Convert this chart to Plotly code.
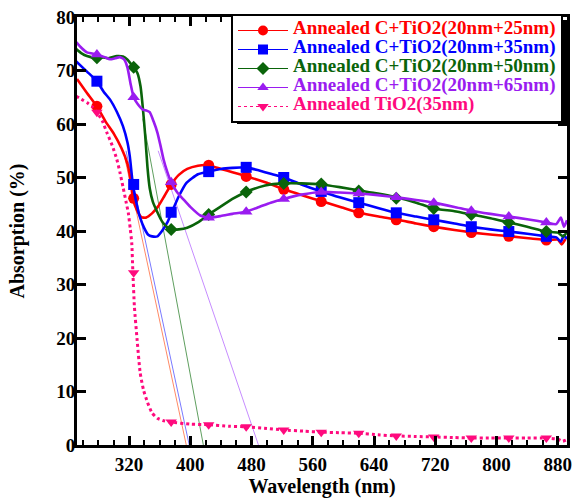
import plotly.graph_objects as go

# ---------------- data ----------------
names = ["Annealed C+TiO2(20nm+25nm)", "Annealed C+TiO2(20nm+35nm)",
         "Annealed C+TiO2(20nm+50nm)", "Annealed C+TiO2(20nm+65nm)",
         "Annealed TiO2(35nm)"]

red_x = [252, 265, 278, 290, 300, 310, 318, 322, 325, 330, 336, 342, 350, 358, 366, 375, 385, 396, 410, 423,
         440, 455, 474, 500, 522, 548, 573, 598, 621, 646, 671, 695, 718, 745, 769, 795, 819, 845, 868, 880, 885, 890]
red_y = [68.4, 65.8, 63.3, 60.3, 58.2, 55.5, 52.5, 49.5, 46.1, 44.0, 42.6, 42.5, 43.3, 44.6, 46.5, 48.7, 50.5, 51.6, 52.2, 52.3,
         51.6, 51.0, 50.2, 49.0, 47.8, 46.6, 45.5, 44.4, 43.4, 42.7, 42.1, 41.4, 40.8, 40.2, 39.7, 39.3, 39.0, 38.6, 38.3, 38.4, 37.5, 38.5]

blue_x = [251, 265, 278, 287, 295, 304, 312, 318, 321, 325, 330, 334, 340, 345, 350, 357, 363, 370, 376, 385, 395, 410, 424,
          440, 455, 473, 490, 505, 522, 545, 571, 595, 620, 645, 669, 695, 718, 745, 767, 792, 816, 840, 865, 878, 884, 888, 892]
blue_y = [71.7, 69.8, 68.0, 66.0, 64.6, 62.3, 59.6, 56.5, 53.9, 48.7, 45.0, 42.7, 40.5, 39.3, 39.0, 39.0, 40.0, 41.6, 43.6, 46.5, 49.0, 50.6, 51.1,
          51.6, 51.8, 51.9, 51.3, 50.7, 50.0, 48.7, 47.4, 46.3, 45.3, 44.3, 43.4, 42.7, 42.1, 41.4, 40.8, 40.3, 39.9, 39.5, 39.0, 38.8, 38.0, 39.2, 38.5]

green_x = [251, 258, 265, 275, 282, 293, 304, 312, 318, 322, 326, 331, 335, 338, 341, 344, 347, 351, 357, 363, 370, 376, 385, 396,
           410, 424, 440, 455, 473, 490, 505, 522, 545, 571, 595, 620, 645, 669, 695, 718, 745, 767, 792, 816, 840, 865, 880, 887, 892]
green_y = [74.0, 73.2, 72.7, 72.4, 72.5, 72.3, 72.7, 72.6, 72.0, 71.3, 70.6, 69.5, 67.0, 63.0, 58.0, 52.0, 48.0, 45.5, 43.5, 41.8, 40.7, 40.3, 40.3, 40.6,
           41.6, 43.1, 44.6, 46.0, 47.3, 48.2, 48.7, 48.9, 48.9, 48.7, 48.2, 47.6, 47.0, 46.3, 45.3, 44.2, 43.7, 43.1, 42.4, 41.6, 40.8, 39.9, 39.7, 39.0, 39.8]

purple_x = [251, 258, 265, 278, 288, 295, 302, 308, 314, 318, 322, 326, 331, 338, 343, 347, 352, 357, 361, 365, 370, 375, 383, 391,
            400, 413, 424, 440, 455, 473, 490, 505, 522, 545, 571, 595, 620, 645, 669, 695, 718, 745, 767, 792, 816, 840, 865, 878, 884, 888, 892]
purple_y = [75.3, 74.2, 73.4, 73.0, 72.5, 72.1, 72.3, 72.5, 72.0, 70.5, 67.5, 65.0, 63.8, 62.7, 62.5, 62.2, 60.5, 58.4, 56.0, 53.4, 51.0, 49.1, 47.2, 45.9,
            44.5, 42.9, 42.5, 42.8, 43.2, 43.6, 44.5, 45.3, 46.0, 46.8, 47.3, 47.2, 47.0, 46.7, 46.3, 45.8, 45.3, 44.5, 43.8, 43.2, 42.7, 42.2, 41.6, 41.3, 42.5, 40.8, 42.0]

pink_x = [251, 258, 265, 272, 278, 285, 291, 298, 304, 308, 312, 316, 319, 321.5, 323.5, 325, 327, 330.5, 334.5, 339, 344, 350, 357, 366, 374,
          400, 423, 450, 473, 500, 522, 548, 571, 596, 620, 645, 669, 695, 718, 745, 767, 792, 816, 840, 865, 880, 886, 892]
pink_y = [65.2, 64.6, 64.0, 63.2, 62.2, 60.6, 58.4, 56.0, 53.4, 51.0, 48.3, 45.5, 43.4, 40.5, 37.8, 32.2, 25.8, 19.7, 13.5, 10.2, 8.0, 6.0, 5.0, 4.5, 4.3,
          3.9, 3.8, 3.5, 3.4, 3.1, 2.8, 2.6, 2.4, 2.3, 2.2, 1.9, 1.7, 1.6, 1.5, 1.4, 1.3, 1.3, 1.3, 1.3, 1.3, 1.1, 0.7, 1.0]

# marker positions (every ~49 nm)
mark_x = [278, 326, 375, 424, 473, 522, 571, 620, 669, 718, 767, 816, 865]
red_mark = [63.3, 46.1, 48.7, 52.3, 50.2, 47.8, 45.5, 43.4, 42.1, 40.8, 39.7, 39.0, 38.3]
blue_mark = [68.0, 48.7, 43.5, 51.1, 51.9, 50.0, 47.4, 45.3, 43.4, 42.1, 40.8, 39.9, 39.0]
green_mark = [72.4, 70.6, 40.3, 43.1, 47.3, 48.9, 48.8, 47.5, 46.1, 44.2, 43.1, 41.6, 39.9]
purple_mark = [73.0, 65.0, 49.1, 42.5, 43.6, 46.0, 47.3, 47.0, 46.3, 45.3, 43.8, 42.7, 41.6]
pink_mark = [62.2, 32.2, 4.3, 3.8, 3.4, 2.8, 2.4, 2.2, 1.7, 1.5, 1.3, 1.3, 1.3]

# band-edge tangent lines: (x_start, y_start) -> (x_intercept, 0)
tan_red_x, tan_red_y = [312.5, 394.7], [55.0, 0.0]
tan_blue_x, tan_blue_y = [316.0, 398.6], [55.0, 0.0]
tan_green_x, tan_green_y = [338.0, 417.0], [61.0, 0.0]
tan_purple_x, tan_purple_y = [358.0, 489.0], [55.0, 0.0]

x_ticks = [320, 400, 480, 560, 640, 720, 800, 880]
y_ticks = [0, 10, 20, 30, 40, 50, 60, 70, 80]

# ---------------- styling ----------------
FONT = "Liberation Serif, Times New Roman, serif"
colors = ["#ff0000", "#0000ff", "#0a640a", "#9a1cf0", "#ff0a7e"]
tan_colors = ["#ff8a66", "#7a7aff", "#5f9f5f", "#c68cff"]
symbols = ["circle", "square", "diamond", "triangle-up", "triangle-down"]
msizes = [11, 11, 10, 11, 10]

series = [(red_x, red_y, red_mark), (blue_x, blue_y, blue_mark), (green_x, green_y, green_mark),
          (purple_x, purple_y, purple_mark), (pink_x, pink_y, pink_mark)]
tangents = [(tan_red_x, tan_red_y), (tan_blue_x, tan_blue_y), (tan_green_x, tan_green_y), (tan_purple_x, tan_purple_y)]

fig = go.Figure()

for (tx, ty), c in zip(tangents, tan_colors):
    fig.add_trace(go.Scatter(x=tx, y=ty, mode="lines", line=dict(color=c, width=1),
                             showlegend=False, hoverinfo="skip"))

for i, (sx, sy, sm) in enumerate(series):
    dash = "dot" if i == 4 else "solid"
    width = 3 if i == 4 else 2.6
    fig.add_trace(go.Scatter(x=sx, y=sy, mode="lines",
                             line=dict(color=colors[i], width=width, dash=dash, shape="spline", smoothing=0.5),
                             showlegend=False, hoverinfo="skip"))
    fig.add_trace(go.Scatter(x=mark_x, y=sm, mode="markers",
                             marker=dict(color=colors[i], symbol=symbols[i], size=msizes[i], line=dict(width=0)),
                             showlegend=False, hoverinfo="skip"))

# legend entries (thin sample line with marker, coloured label)
for i, n in enumerate(names):
    dash = "dot" if i == 4 else "solid"
    fig.add_trace(go.Scatter(x=[None], y=[None], mode="lines+markers",
                             name=f'<span style="font-size:19px;color:{colors[i]}"><b>{n}</b></span>',
                             line=dict(color=colors[i], width=1, dash=dash),
                             marker=dict(color=colors[i], symbol=symbols[i], size=10)))

W, H = 575, 498
ml, mr, mt, mb = 77, 8, 17, 53
pw, ph = W - ml - mr, H - mt - mb

def px2paper(x, y):
    return (x - ml) / pw, (H - mb - y) / ph

# legend shadow
sx0, sy0 = px2paper(237, 20)
sx1, sy1 = px2paper(568, 124)
fig.add_shape(type="rect", xref="paper", yref="paper", x0=sx0, x1=sx1, y0=sy1, y1=sy0,
              fillcolor="black", line=dict(width=0), layer="above")

lx, ly = px2paper(231, 14)
fig.update_layout(
    width=W, height=H,
    margin=dict(l=ml, r=mr, t=mt, b=mb, autoexpand=False),
    paper_bgcolor="white", plot_bgcolor="white",
    font=dict(family=FONT, color="black", size=19),
    showlegend=True,
    legend=dict(x=lx, y=ly, xanchor="left", yanchor="top", bgcolor="white",
                bordercolor="black", borderwidth=2, font=dict(size=10, family=FONT, color="black"),
                itemwidth=50, tracegroupgap=0),
    xaxis=dict(range=[252, 892], tickmode="array", tickvals=x_ticks, ticktext=[f"<b>{v}</b>" for v in x_ticks],
               ticks="inside", ticklen=9, tickwidth=2.5, tickcolor="black",
               minor=dict(dtick=20, tick0=320, ticks="inside", ticklen=5, tickwidth=2, tickcolor="black"),
               showline=True, linecolor="black", linewidth=3, mirror="allticks",
               showgrid=False, zeroline=False, automargin=False, ticklabeloverflow="allow",
               title=dict(text="<b>Wavelength (nm)</b>", font=dict(size=20, family=FONT, color="black"), standoff=2),
               tickfont=dict(size=19, family=FONT, color="black")),
    yaxis=dict(range=[0, 80], tickmode="array", tickvals=y_ticks, ticktext=[f"<b>{v}</b>" for v in y_ticks],
               ticks="inside", ticklen=9, tickwidth=2.5, tickcolor="black",
               showline=True, linecolor="black", linewidth=3, mirror="allticks",
               showgrid=False, zeroline=False, automargin=False, ticklabeloverflow="allow",
               ticklabelstandoff=-5,
               title=dict(text="<b>Absorption (%)</b>", font=dict(size=20, family=FONT, color="black"), standoff=27),
               tickfont=dict(size=19, family=FONT, color="black")),
)

# remove the browser's default 8px body margin so the 575x498 figure fills the window exactly
fig.write_html("out.html", config={"displayModeBar": False},
               post_script="document.body.style.margin='0px';")
